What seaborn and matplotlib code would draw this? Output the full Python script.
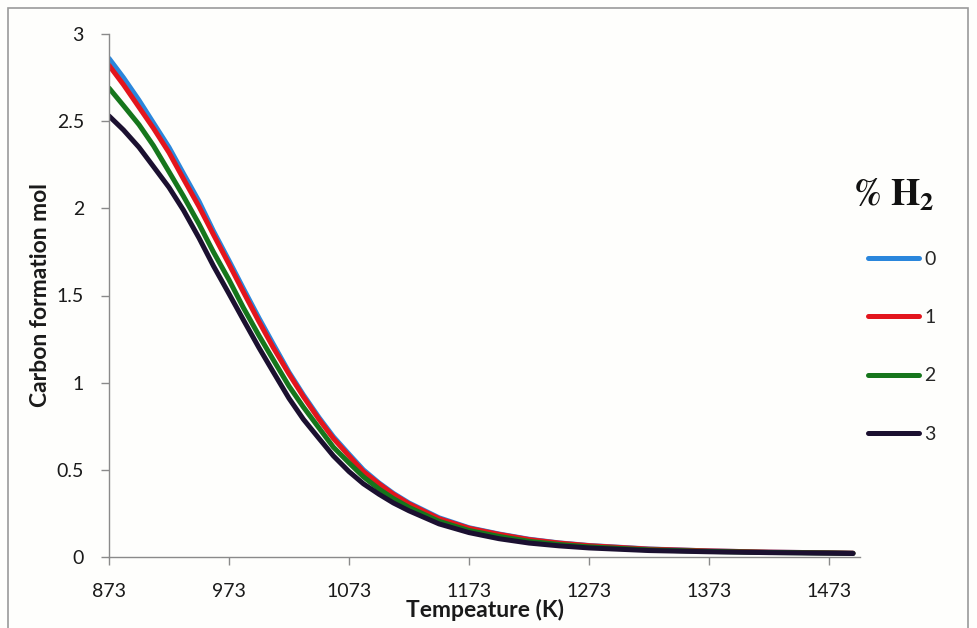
import matplotlib
matplotlib.use("Agg")
import matplotlib.pyplot as plt
import seaborn as sns
import pandas as pd
from matplotlib.ticker import FuncFormatter
from matplotlib.patches import Rectangle

# Temperature grid (K)
temperature = [873, 885, 898, 910, 923, 935, 948, 960, 973, 985, 998, 1010, 1023,
               1035, 1048, 1060, 1073, 1085, 1098, 1110, 1123, 1148, 1173, 1198,
               1223, 1248, 1273, 1323, 1373, 1423, 1473, 1493]

# Carbon formation (mol) for each H2 percentage
carbon_h2_0 = [2.86, 2.75, 2.62, 2.49, 2.35, 2.20, 2.04, 1.87, 1.70, 1.54, 1.37, 1.22,
               1.06, 0.93, 0.80, 0.69, 0.59, 0.50, 0.425, 0.365, 0.31, 0.225, 0.168,
               0.132, 0.102, 0.081, 0.066, 0.046, 0.035, 0.028, 0.024, 0.022]
carbon_h2_1 = [2.82, 2.71, 2.58, 2.46, 2.32, 2.17, 2.01, 1.85, 1.68, 1.52, 1.35, 1.20,
               1.05, 0.92, 0.79, 0.68, 0.58, 0.49, 0.42, 0.36, 0.305, 0.22, 0.165,
               0.13, 0.10, 0.08, 0.065, 0.045, 0.035, 0.028, 0.024, 0.022]
carbon_h2_2 = [2.69, 2.59, 2.48, 2.36, 2.21, 2.07, 1.91, 1.75, 1.59, 1.43, 1.27, 1.13,
               0.98, 0.86, 0.74, 0.63, 0.54, 0.46, 0.39, 0.335, 0.285, 0.205, 0.152,
               0.118, 0.09, 0.072, 0.058, 0.041, 0.032, 0.026, 0.023, 0.021]
carbon_h2_3 = [2.53, 2.45, 2.35, 2.24, 2.12, 1.99, 1.83, 1.67, 1.51, 1.36, 1.20, 1.06,
               0.91, 0.79, 0.68, 0.58, 0.49, 0.42, 0.36, 0.31, 0.265, 0.19, 0.14,
               0.105, 0.08, 0.064, 0.052, 0.037, 0.03, 0.025, 0.022, 0.02]

h2_levels = ["0", "1", "2", "3"]
series_colors = ["#2a86dc", "#e3151d", "#16761c", "#1b1030"]
x_ticks = [873, 973, 1073, 1173, 1273, 1373, 1473]
y_ticks = [0, 0.5, 1, 1.5, 2, 2.5, 3]

frames = []
for level, values in zip(h2_levels, [carbon_h2_0, carbon_h2_1, carbon_h2_2, carbon_h2_3]):
    frames.append(pd.DataFrame({"T": temperature, "C": values, "H2": level}))
df = pd.concat(frames, ignore_index=True)

sns.set_theme(style="white")
plt.rcParams["font.family"] = ["Lato", "DejaVu Sans"]
plt.rcParams["mathtext.fontset"] = "stix"

W, H = 978, 628
fig = plt.figure(figsize=(W / 100, H / 100), dpi=100)
fig.patch.set_facecolor("#fefefc")
x0, x1, y0, y1 = 109, 860, 557, 34
ax = fig.add_axes([x0 / W, (H - y0) / H, (x1 - x0) / W, (y0 - y1) / H])
ax.set_facecolor("#fefefc")

sns.lineplot(data=df, x="T", y="C", hue="H2", hue_order=h2_levels,
             palette=series_colors, linewidth=3.6, ax=ax, legend=True,
             solid_capstyle="round")

ax.set_xlim(873, 873 + (x1 - x0) / 1.2)
ax.set_ylim(0, 3)
ax.set_xticks(x_ticks)
ax.set_yticks(y_ticks)
ax.yaxis.set_major_formatter(FuncFormatter(lambda v, p: f"{v:g}"))

for side in ["top", "right"]:
    ax.spines[side].set_visible(False)
for side in ["left", "bottom"]:
    ax.spines[side].set_color("#8a8a8a")
    ax.spines[side].set_linewidth(1.0)

ax.tick_params(axis="both", which="major", labelsize=14, colors="#8a8a8a",
               labelcolor="#1a1a1a", length=6, width=1.0, direction="out",
               bottom=True, left=True)
ax.tick_params(axis="x", pad=13)
ax.tick_params(axis="y", pad=12)

ax.set_xlabel("Tempeature (K)", fontsize=16.5, fontweight="bold", color="#1a1a1a",
              labelpad=-1)
ax.set_ylabel("Carbon formation mol", fontsize=16.5, fontweight="bold",
              color="#1a1a1a", labelpad=4)

# Legend title drawn separately so it sits above the entries
fig.text(894 / W, 1 - 195 / H, r"$\mathbf{\%\ H_2}$", fontsize=27,
         ha="center", va="center", color="#111111")

leg = ax.legend(loc="upper left", bbox_to_anchor=(868 / W, 1 - 251 / H),
                bbox_transform=fig.transFigure, frameon=False, fontsize=14,
                handlelength=2.6, handletextpad=0.3, labelspacing=2.12,
                borderaxespad=0, borderpad=0)
for line in leg.get_lines():
    line.set_linewidth(3.6)
    line.set_solid_capstyle("round")

# Outer chart-area border
fig.add_artist(Rectangle((8 / W, -0.02), (968 - 8) / W, 1 - 8 / H + 0.02,
                         transform=fig.transFigure, fill=False,
                         edgecolor="#9a9a9a", linewidth=1.2))

fig.savefig("out.png", dpi=100, facecolor=fig.get_facecolor())
